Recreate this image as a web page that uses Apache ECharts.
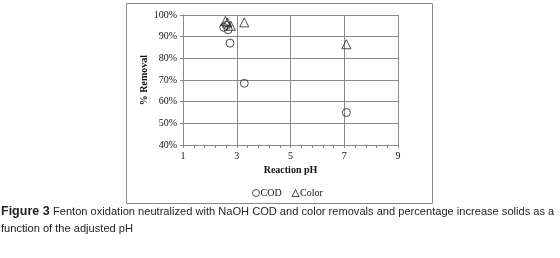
<!DOCTYPE html>
<html><head><meta charset="utf-8">
<script src="https://cdn.jsdelivr.net/npm/echarts@6/dist/echarts.min.js"></script>
<style>html,body{margin:0;padding:0;background:#fff}#c{width:560px;height:258px}</style>
</head><body><div id="c"></div>
<script>
// pH values and % removal
const codPH = [2.52, 2.68, 2.62, 2.75, 3.28, 7.08];
const codVal = [94.3, 93.2, 95.2, 87.0, 68.5, 55.0];
const colorPH = [2.58, 2.65, 2.78, 3.28, 7.08];
const colorVal = [97.3, 96.6, 95.0, 96.6, 86.5];
const xTicks = [1, 3, 5, 7, 9];
const yTicks = [40, 50, 60, 70, 80, 90, 100];

const serif = '"Liberation Serif","Times New Roman",serif';
const chart = echarts.init(document.getElementById('c'));
const pair = (xs, ys) => xs.map((x, i) => [x, ys[i]]);
chart.setOption({
  animation: false,
  backgroundColor: '#fff',
  grid: {left: 183, right: 162, top: 15, bottom: 113},
  graphic: [
    {type: 'rect', shape: {x: 126.5, y: 3.5, width: 306, height: 200}, style: {fill: 'none', stroke: '#8a8a8a', lineWidth: 1}, z: -1},
    {type: 'text', left: 1, top: 205, style: {
      text: '{b|Figure 3} {n|Fenton oxidation neutralized with NaOH COD and color removals and percentage increase solids as a}\n{n|function of the adjusted pH}',
      rich: {
        b: {fontFamily: '"Liberation Sans",Arial,sans-serif', fontWeight: 'bold', fontSize: 12.5, fill: '#222', lineHeight: 17},
        n: {fontFamily: '"Liberation Sans",Arial,sans-serif', fontSize: 11.1, fill: '#222', lineHeight: 17}
      }
    }}
  ],
  xAxis: {
    type: 'value', min: 1, max: 9, interval: 2,
    name: 'Reaction pH', nameLocation: 'middle', nameGap: 17,
    nameTextStyle: {fontFamily: serif, fontWeight: 'bold', fontSize: 10, color: '#111'},
    axisLine: {lineStyle: {color: '#888'}},
    axisTick: {show: true, length: 3, lineStyle: {color: '#888'}},
    minorTick: {show: true, splitNumber: 5, length: 3, lineStyle: {color: '#888'}},
    splitLine: {show: true, lineStyle: {color: '#8a8a8a', width: 1}},
    axisLabel: {fontFamily: serif, fontSize: 10, color: '#111', margin: 6}
  },
  yAxis: {
    type: 'value', min: 40, max: 100, interval: 10,
    name: '% Removal', nameLocation: 'middle', nameGap: 31, nameRotate: 90,
    nameTextStyle: {fontFamily: serif, fontWeight: 'bold', fontSize: 10, color: '#111'},
    axisLine: {show: true, lineStyle: {color: '#888'}},
    axisTick: {show: true, length: 3, inside: false, lineStyle: {color: '#888'}},
    splitLine: {show: true, lineStyle: {color: '#8a8a8a', width: 1}},
    axisLabel: {fontFamily: serif, fontSize: 10, color: '#111', margin: 6, formatter: '{value}%'}
  },
  legend: {
    top: 183, left: 247, itemWidth: 7, itemHeight: 7, itemGap: 10,
    itemStyle: {borderWidth: 1, borderColor: '#222', color: 'rgba(0,0,0,0)'},
    textStyle: {fontFamily: serif, fontSize: 10, color: '#111', padding: [0, 0, 0, -4]},
    data: [{name: 'COD', icon: 'circle'}, {name: 'Color', icon: 'triangle'}]
  },
  series: [
    {name: 'COD', type: 'scatter', symbol: 'circle', symbolSize: 8,
     itemStyle: {color: 'rgba(0,0,0,0)', borderColor: '#222', borderWidth: 1},
     data: pair(codPH, codVal)},
    {name: 'Color', type: 'scatter', symbol: 'triangle', symbolSize: 9,
     itemStyle: {color: 'rgba(0,0,0,0)', borderColor: '#222', borderWidth: 1},
     data: pair(colorPH, colorVal)}
  ]
});
</script></body></html>
